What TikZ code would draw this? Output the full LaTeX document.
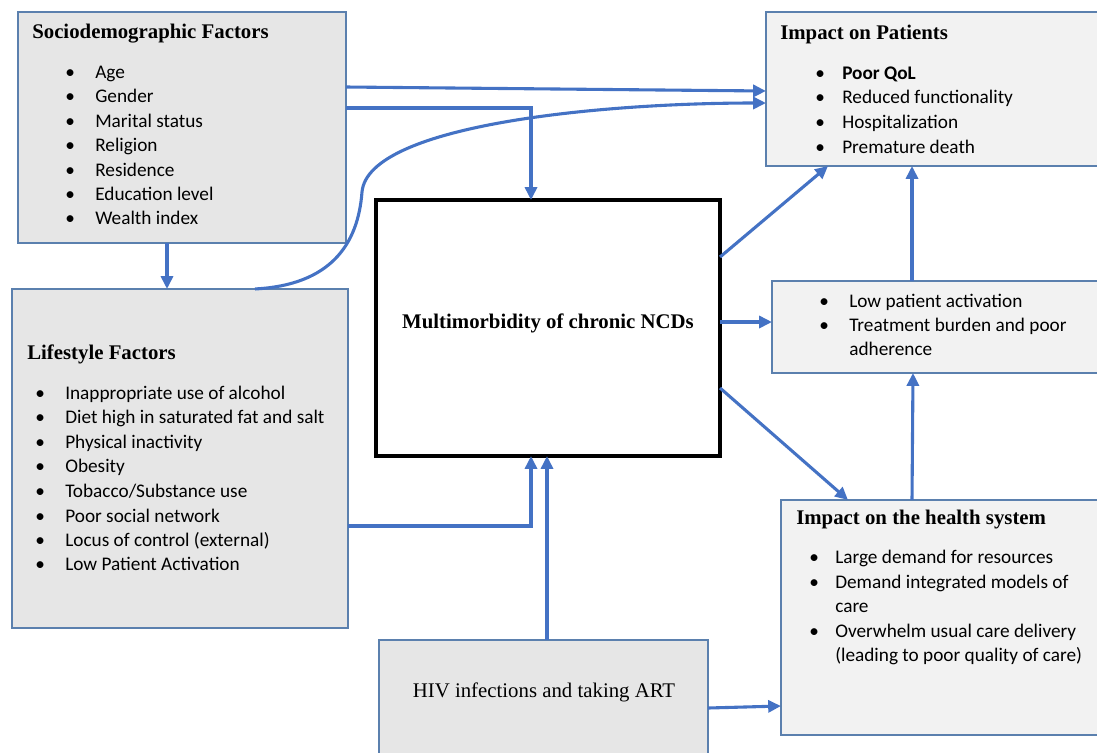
\documentclass[tikz,border=0pt]{standalone}
\usepackage{fontspec}
\setmainfont{Liberation Serif}
\newfontfamily\calib{Carlito}
\usepackage{tikz}
\usetikzlibrary{arrows.meta}
\definecolor{boxedge}{HTML}{5B80AE}
\definecolor{arrowblue}{HTML}{4472C4}
\definecolor{greyfill}{HTML}{E6E6E6}
\definecolor{lightfill}{HTML}{F2F2F2}
\newcommand{\bul}[2][0.75cm]{\makebox[#1][l]{\textbullet}#2}

\begin{document}
\begin{tikzpicture}[
    x=0.025cm, y=-0.025cm,
    box/.style={draw=boxedge, line width=1pt, inner sep=0pt, outer sep=0pt},
    greybox/.style={fill=greyfill},
    lightbox/.style={fill=lightfill},
    title/.style={anchor=base west, inner sep=0pt, font=\bfseries\fontsize{14.8}{17}\selectfont},
    item/.style={anchor=base west, inner sep=0pt, font=\calib\fontsize{13.7}{16}\selectfont},
    arr/.style={-{Triangle[length=3.2mm, width=3mm]}, line width=2.2pt, arrowblue}
]
    \clip (0,0) rectangle (1097,752);

    % left column
    \node[box, greybox, minimum width=8.2cm, minimum height=5.775cm] (socio) at (182,127.5) {};
    \node[title] (sociotitle) at (32,38) {Sociodemographic Factors};
    \node[item] (s1) at (65,78) {\bul{Age}};
    \node[item] (s2) at (65,102) {\bul{Gender}};
    \node[item] (s3) at (65,127) {\bul{Marital status}};
    \node[item] (s4) at (65,151) {\bul{Religion}};
    \node[item] (s5) at (65,176) {\bul{Residence}};
    \node[item] (s6) at (65,200) {\bul{Education level}};
    \node[item] (s7) at (65,224) {\bul{Wealth index}};

    \node[box, greybox, minimum width=8.4cm, minimum height=8.475cm] (life) at (180,458.5) {};
    \node[title] (lifetitle) at (27,359) {Lifestyle Factors};
    \node[item] (l1) at (35,399) {\bul{Inappropriate use of alcohol}};
    \node[item] (l2) at (35,423) {\bul{Diet high in saturated fat and salt}};
    \node[item] (l3) at (35,448) {\bul{Physical inactivity}};
    \node[item] (l4) at (35,472) {\bul{Obesity}};
    \node[item] (l5) at (35,497) {\bul{Tobacco/Substance use}};
    \node[item] (l6) at (35,522) {\bul{Poor social network}};
    \node[item] (l7) at (35,546) {\bul{Locus of control (external)}};
    \node[item] (l8) at (35,570) {\bul{Low Patient Activation}};

    % centre
    \node[draw, line width=2.8pt, fill=white, inner sep=0pt, outer sep=0pt,
          minimum width=8.6cm, minimum height=6.4cm] (ncd) at (548,328) {};
    \node[anchor=base, font=\bfseries\fontsize{14.8}{17}\selectfont, inner sep=0pt] (ncdtext) at (548,328) {Multimorbidity of chronic NCDs};

    \node[box, greybox, minimum width=8.225cm, minimum height=3cm] (hiv) at (543.5,700) {};
    \node[anchor=base, font=\fontsize{14.8}{17}\selectfont, inner sep=0pt] (hivtext) at (544,697) {HIV infections and taking ART};

    % right column
    \node[box, lightbox, minimum width=8.4cm, minimum height=3.85cm] (pat) at (934,89) {};
    \node[title] (pattitle) at (780,39) {Impact on Patients};
    \node[item] (p1) at (815,79) {\bul[0.675cm]{\bfseries Poor QoL}};
    \node[item] (p2) at (815,103) {\bul[0.675cm]{Reduced functionality}};
    \node[item] (p3) at (815,128) {\bul[0.675cm]{Hospitalization}};
    \node[item] (p4) at (815,153) {\bul[0.675cm]{Premature death}};

    \node[box, lightbox, minimum width=8.25cm, minimum height=2.3cm] (act) at (937,327) {};
    \node[item] (a1) at (819,307) {\bul{Low patient activation}};
    \node[item] (a2) at (819,331) {\bul{Treatment burden and poor}};
    \node[item] (a3) at (849,355) {adherence};

    \node[box, lightbox, minimum width=8.025cm, minimum height=5.875cm] (hs) at (941.5,617.5) {};
    \node[title] (hstitle) at (796,524) {Impact on the health system};
    \node[item] (h1) at (809,563) {\bul[0.65cm]{Large demand for resources}};
    \node[item] (h2) at (809,588) {\bul[0.65cm]{Demand integrated models of}};
    \node[item] (h3) at (835,612) {care};
    \node[item] (h4) at (809,637) {\bul[0.65cm]{Overwhelm usual care delivery}};
    \node[item] (h5) at (835,661) {(leading to poor quality of care)};

    % connectors
    \draw[arr] (socio.east |- 0,87) -- (pat.west |- 0,91);
    \draw[arr] (socio.east |- 0,108) -| (ncd.north -| 531,0);
    \draw[arr] (life.north -| 255,0) .. controls (330,285) and (358,245) .. (362,192)
        .. controls (368,125) and (600,103) .. (pat.west |- 0,103);
    \draw[arr] (socio.south -| 167,0) -- (life.north -| 167,0);
    \draw[arr] (life.east |- 0,526) -| (ncd.south -| 531,0);
    \draw[arr] (hiv.north -| 547,0) -- (ncd.south -| 547,0);
    \draw[arr] (ncd.east |- 0,257) -- (pat.south -| 828,0);
    \draw[arr] (ncd.east |- 0,322) -- (act.west |- 0,322);
    \draw[arr] (ncd.east |- 0,388) -- (hs.north -| 848,0);
    \draw[arr] (act.north -| 912,0) -- (pat.south -| 912,0);
    \draw[arr] (hs.north -| 912,0) -- (act.south -| 913,0);
    \draw[arr] (hiv.east |- 0,708) -- (hs.west |- 0,706);
\end{tikzpicture}
\end{document}
